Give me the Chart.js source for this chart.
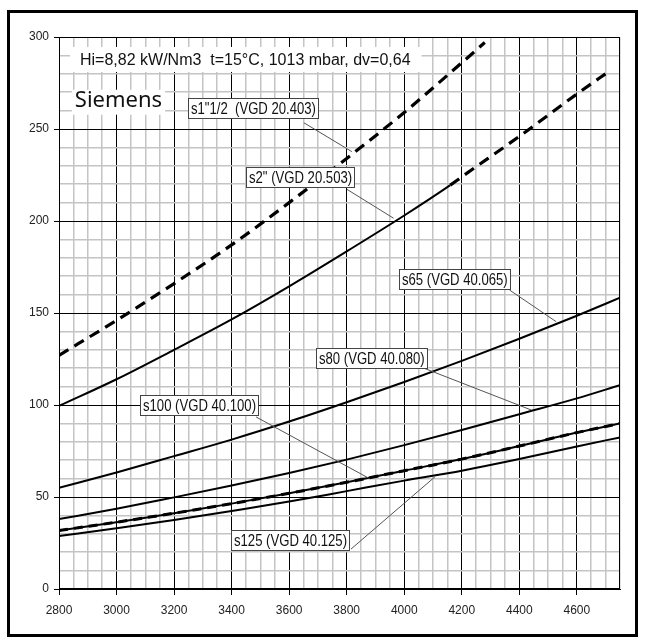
<!DOCTYPE html>
<html>
<head>
<meta charset="utf-8">
<script src="https://cdn.jsdelivr.net/npm/chart.js@4.4.1/dist/chart.umd.min.js"></script>
<style>
  html, body { margin: 0; padding: 0; background: #fff; }
  canvas { display: block; }
</style>
</head>
<body>
<canvas id="c" width="645" height="644"></canvas>
<script>
// ---- data ----
const flow = [2800, 3000, 3200, 3400, 3600, 3800, 4000, 4200, 4400, 4600, 4750];
const flowS1 = [2800, 3000, 3200, 3400, 3600, 3800, 4000, 4200, 4280];
const s1_1_2 = [127, 146, 166, 187, 210, 234, 259, 286, 297];
const flowS2 = [2800, 3000, 3200, 3400, 3600, 3800, 4000, 4160, 4200, 4400, 4600, 4718];
const s2 = [99.5, 114, 130, 146.5, 164.5, 183.5, 203, 219.5, 224, 246, 269, 282];
const s65 = [55, 63.3, 72.2, 81.2, 91, 101.5, 112.5, 124, 136, 148.5, 158.3];
const s80 = [38, 43.6, 49.8, 56.2, 63, 70.3, 78.2, 86.4, 95, 103.6, 110.8];
const s100 = [31.8, 36.3, 41.2, 46.4, 52, 58, 64.3, 70.6, 77.7, 85, 90];
const s125 = [28.8, 33, 37.5, 42.4, 47.5, 53.2, 58.9, 64.3, 70.6, 77.5, 82.4];
const xTickLabels = ['2800', '3000', '3200', '3400', '3600', '3800', '4000', '4200', '4400', '4600'];
const yTickLabels = ['0', '50', '100', '150', '200', '250', '300'];
const headerText = 'Hi=8,82 kW/Nm3  t=15°C, 1013 mbar, dv=0,64';
const brandText = 'Siemens';
const seriesNames = ['s1"1/2  (VGD 20.403)', 's2" (VGD 20.503)', 's65 (VGD 40.065)', 's80 (VGD 40.080)', 's100 (VGD 40.100)', 's125 (VGD 40.125)'];
const s2DashFrom = 4160;

const pts = (xs, ys) => xs.map((x, i) => ({ x: x, y: ys[i] }));

// callouts: box top-left and leader line in data coordinates
const callouts = [
  { text: seriesNames[0], box: [3250, 267.0], from: [3651, 253.4], to: [3818, 237.7] },
  { text: seriesNames[1], box: [3450, 229.5], from: [3801, 217.2], to: [3963, 201.5] },
  { text: seriesNames[2], box: [3983, 173.7], from: [4366, 162.5], to: [4528, 145.3] },
  { text: seriesNames[3], box: [3692, 130.8], from: [4070, 119.9], to: [4441, 97.3] },
  { text: seriesNames[4], box: [3080, 105.4], from: [3485, 93.5], to: [3876, 60.3] },
  { text: seriesNames[5], box: [3398, 32.1], from: [3815, 21.7], to: [4107, 61.0] }
];

const annot = {
  id: 'annot',
  beforeDraw(chart) {
    const ctx = chart.ctx;
    ctx.save();
    ctx.fillStyle = '#fff';
    ctx.fillRect(0, 0, chart.width, chart.height);
    ctx.restore();
  },
  beforeDatasetsDraw(chart) {
    const { ctx, scales: { x, y } } = chart;
    ctx.save();
    // header text with white background
    ctx.font = '16px "Liberation Sans", Arial, sans-serif';
    const hx = x.getPixelForValue(2873), hy = y.getPixelForValue(284.8);
    const hw = ctx.measureText(headerText).width;
    ctx.fillStyle = '#fff';
    ctx.fillRect(hx - 10, hy - 18, hw + 21, 25);
    ctx.fillStyle = '#111';
    ctx.textBaseline = 'alphabetic';
    ctx.fillText(headerText, hx, hy);
    // brand
    ctx.font = '22px "Noto Sans", "Open Sans", sans-serif';
    const bx = x.getPixelForValue(2855), by = y.getPixelForValue(262.1);
    const bw = ctx.measureText(brandText).width;
    ctx.fillStyle = '#fff';
    ctx.fillRect(bx - 3, by - 17, bw + 6, 25);
    ctx.fillStyle = '#111';
    ctx.fillText(brandText, bx, by);
    ctx.restore();
  },
  afterDatasetsDraw(chart) {
    const { ctx, scales: { x, y }, chartArea: a } = chart;
    ctx.save();
    // plot frame
    ctx.strokeStyle = '#000';
    ctx.lineWidth = 1;
    ctx.strokeRect(Math.round(a.left) + 0.5, Math.round(a.top) + 0.5, Math.round(a.right - a.left) - 1, Math.round(a.bottom - a.top) - 1);
    // leaders
    ctx.strokeStyle = '#555';
    ctx.lineWidth = 1;
    callouts.forEach(c => {
      ctx.beginPath();
      ctx.moveTo(x.getPixelForValue(c.from[0]), y.getPixelForValue(c.from[1]));
      ctx.lineTo(x.getPixelForValue(c.to[0]), y.getPixelForValue(c.to[1]));
      ctx.stroke();
    });
    // boxes
    ctx.font = '16px "Liberation Sans", Arial, sans-serif';
    const sx = 0.82;
    callouts.forEach(c => {
      const px = Math.round(x.getPixelForValue(c.box[0])) + 0.5;
      const py = Math.round(y.getPixelForValue(c.box[1])) + 0.5;
      const w = Math.round(ctx.measureText(c.text).width * sx + 5);
      const h = 20;
      ctx.fillStyle = '#fff';
      ctx.fillRect(px, py, w, h);
      ctx.strokeStyle = '#444';
      ctx.strokeRect(px, py, w, h);
      ctx.save();
      ctx.translate(px + 2.5, py + h / 2 + 1);
      ctx.scale(sx, 1);
      ctx.fillStyle = '#111';
      ctx.textBaseline = 'middle';
      ctx.fillText(c.text, 0, 0);
      ctx.restore();
    });
    ctx.restore();
  },
  afterDraw(chart) {
    const ctx = chart.ctx;
    ctx.save();
    ctx.strokeStyle = '#000';
    ctx.lineWidth = 3;
    ctx.strokeRect(8.5, 11.5, 628, 624);
    ctx.restore();
  }
};

const isMajorX = v => xTickLabels.includes(String(v));
const isMajorY = v => yTickLabels.includes(String(v));

const solid = { borderColor: '#000', borderWidth: 2, pointRadius: 0, cubicInterpolationMode: 'monotone', fill: false };

new Chart(document.getElementById('c'), {
  type: 'line',
  data: {
    datasets: [
      Object.assign({}, solid, { label: seriesNames[0], data: pts(flowS1, s1_1_2), borderWidth: 3.2, borderDash: [11, 7] }),
      Object.assign({}, solid, {
        label: seriesNames[1], data: pts(flowS2, s2),
        segment: {
          borderDash: c => c.p0.parsed.x >= s2DashFrom ? [11, 7] : undefined,
          borderWidth: c => c.p0.parsed.x >= s2DashFrom ? 3.2 : 2
        }
      }),
      Object.assign({}, solid, { label: seriesNames[2], data: pts(flow, s65) }),
      Object.assign({}, solid, { label: seriesNames[3], data: pts(flow, s80) }),
      Object.assign({}, solid, { label: seriesNames[4], data: pts(flow, s100) }),
      Object.assign({}, solid, { label: seriesNames[4] + ' *', data: pts(flow, s100), borderWidth: 3, borderDash: [9, 6] }),
      Object.assign({}, solid, { label: seriesNames[5], data: pts(flow, s125) })
    ]
  },
  options: {
    responsive: false,
    animation: false,
    devicePixelRatio: 1,
    layout: { padding: { left: 0, top: 37, right: 25, bottom: 0 } },
    plugins: { legend: { display: false }, tooltip: { enabled: false } },
    scales: {
      x: {
        type: 'linear', min: 2800, max: 4750,
        afterFit: s => { s.height = 55; },
        ticks: {
          stepSize: 50, autoSkip: false, maxRotation: 0,
          callback: v => isMajorX(v) ? String(v) : '',
          font: { family: '"Liberation Sans", Arial, sans-serif', size: 12 },
          color: '#222', padding: 8
        },
        grid: {
          color: c => isMajorX(c.tick && c.tick.value) ? '#000' : '#c4c4c4',
          lineWidth: c => isMajorX(c.tick && c.tick.value) ? 1 : 1.5,
          tickLength: 6,
          tickColor: c => isMajorX(c.tick && c.tick.value) ? '#000' : 'rgba(0,0,0,0)'
        },
        border: { color: '#000', width: 1 }
      },
      y: {
        type: 'linear', min: 0, max: 300,
        afterFit: s => { s.width = 59; },
        ticks: {
          stepSize: 10, autoSkip: false,
          callback: v => isMajorY(v) ? String(v) : '',
          font: { family: '"Liberation Sans", Arial, sans-serif', size: 12 },
          color: '#222', padding: 5
        },
        grid: {
          color: c => isMajorY(c.tick && c.tick.value) ? '#000' : '#c4c4c4',
          lineWidth: c => isMajorY(c.tick && c.tick.value) ? 1 : 1.5,
          tickLength: 5,
          tickColor: c => isMajorY(c.tick && c.tick.value) ? '#000' : 'rgba(0,0,0,0)'
        },
        border: { color: '#000', width: 1 }
      }
    }
  },
  plugins: [annot]
});
</script>
</body>
</html>
